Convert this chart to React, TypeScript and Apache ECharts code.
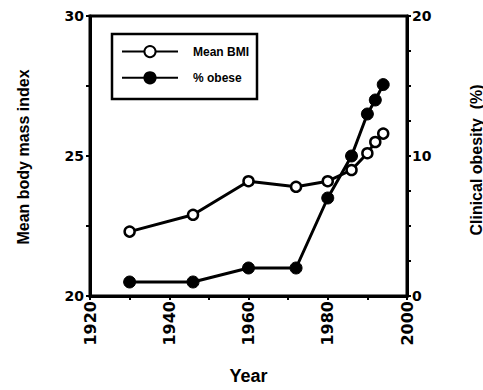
import React, { useEffect, useRef } from "react";
import * as echarts from "echarts";

const years = [1930, 1946, 1960, 1972, 1980, 1986, 1990, 1992, 1994];
const meanBMI = [22.3, 22.9, 24.1, 23.9, 24.1, 24.5, 25.1, 25.5, 25.8];
const obesePct = [1.0, 1.0, 2.0, 2.0, 7.0, 10.0, 13.0, 14.0, 15.1];

const seriesNames = ["Mean BMI", "% obese"];
const axisTitles = { x: "Year", left: "Mean body mass index", right: "Clinical obesity  (%)" };

const digitFont = "DejaVu Sans";
const textFont = "Liberation Sans";

export default function App() {
  const ref = useRef<HTMLDivElement>(null);
  useEffect(() => {
    document.body.style.margin = "0";
    if (!ref.current) return;
    const chart = echarts.init(ref.current, null, { renderer: "svg" });
    const tick = { show: true, inside: false, length: 4, lineStyle: { color: "#000", width: 2 } };
    const line = { show: true, onZero: false, lineStyle: { color: "#000", width: 3 } };
    const titleStyle = { fontFamily: textFont, fontWeight: "bold", fontSize: 16, fill: "#000", align: "center", verticalAlign: "middle" };
    chart.setOption({
      animation: false,
      backgroundColor: "#fff",
      grid: { left: 90, right: 76, top: 16, bottom: 86, show: true, borderColor: "#000", borderWidth: 3 },
      graphic: [
        {
          type: "rect",
          shape: { x: 112, y: 34, width: 145, height: 65 },
          style: { fill: "none", stroke: "#000", lineWidth: 2.5 },
          z: 10,
        },
        {
          type: "text",
          x: 23,
          y: 157,
          rotation: Math.PI / 2,
          style: { ...titleStyle, text: axisTitles.left },
        },
        {
          type: "text",
          x: 476,
          y: 160,
          rotation: Math.PI / 2,
          style: { ...titleStyle, text: axisTitles.right },
        },
      ],
      legend: {
        orient: "vertical",
        left: 121,
        top: 45,
        padding: 0,
        itemWidth: 56,
        itemHeight: 14,
        itemGap: 13,
        data: seriesNames,
        textStyle: { fontFamily: textFont, fontWeight: "bold", fontSize: 12, color: "#000", padding: [0, 0, 0, 10] },
      },
      xAxis: {
        type: "value",
        min: 1920,
        max: 2000,
        interval: 10,
        name: axisTitles.x,
        nameLocation: "middle",
        nameGap: 71,
        nameTextStyle: { fontFamily: textFont, fontWeight: "bold", fontSize: 18, color: "#000" },
        axisLine: line,
        axisTick: tick,
        splitLine: { show: false },
        axisLabel: {
          rotate: 90,
          margin: 5,
          fontFamily: digitFont,
          fontWeight: "bold",
          fontSize: 16,
          color: "#000",
          formatter: (v: number) => (v % 20 === 0 ? String(v) : ""),
        },
      },
      yAxis: [
        {
          type: "value",
          min: 20,
          max: 30,
          interval: 2.5,
          position: "left",
          axisLine: line,
          axisTick: tick,
          splitLine: { show: false },
          axisLabel: {
            margin: 6,
            fontFamily: digitFont,
            fontWeight: "bold",
            fontSize: 14,
            color: "#000",
            formatter: (v: number) => (v % 5 === 0 ? String(v) : ""),
          },
        },
        {
          type: "value",
          min: 0,
          max: 20,
          interval: 2.5,
          position: "right",
          axisLine: line,
          axisTick: tick,
          splitLine: { show: false },
          axisLabel: {
            margin: 5,
            fontFamily: digitFont,
            fontWeight: "bold",
            fontSize: 14,
            color: "#000",
            formatter: (v: number) => (v % 10 === 0 ? String(v) : ""),
          },
        },
      ],
      series: [
        {
          name: seriesNames[1],
          type: "line",
          yAxisIndex: 1,
          data: years.map((y, i) => [y, obesePct[i]]),
          symbol: "circle",
          symbolSize: 12,
          itemStyle: { color: "#000", borderColor: "#000", borderWidth: 1 },
          lineStyle: { color: "#000", width: 3 },
        },
        {
          name: seriesNames[0],
          type: "line",
          yAxisIndex: 0,
          data: years.map((y, i) => [y, meanBMI[i]]),
          symbol: "circle",
          symbolSize: 10,
          itemStyle: { color: "#fff", borderColor: "#000", borderWidth: 2.5 },
          lineStyle: { color: "#000", width: 3 },
        },
      ],
    });
    return () => chart.dispose();
  }, []);
  return <div ref={ref} style={{ width: 483, height: 390 }} />;
}
